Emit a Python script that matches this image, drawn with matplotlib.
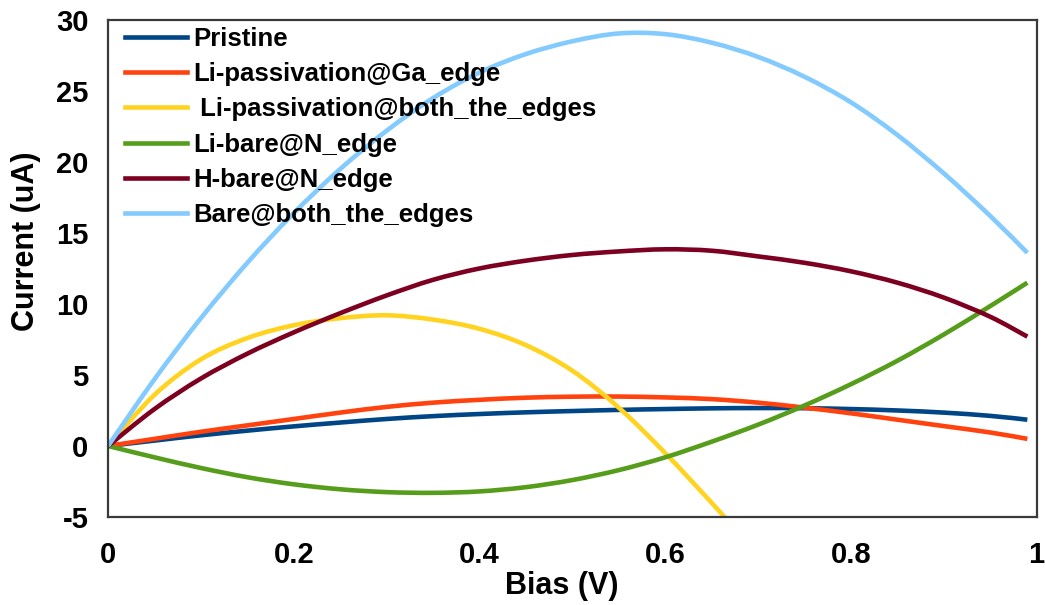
import matplotlib
matplotlib.use("Agg")
import numpy as np
import matplotlib.pyplot as plt
from matplotlib.path import Path
from matplotlib.patches import PathPatch

plt.rcParams['font.family'] = ['Liberation Sans', 'DejaVu Sans']
plt.rcParams['font.weight'] = 'bold'
plt.rcParams['axes.unicode_minus'] = False

bias = [0, 0.05, 0.1, 0.15, 0.2, 0.25, 0.3, 0.35, 0.4, 0.45, 0.5,
        0.55, 0.6, 0.65, 0.7, 0.75, 0.8, 0.85, 0.9, 0.95, 0.99]

pristine = [0, 0.38, 0.75, 1.08, 1.38, 1.65, 1.9, 2.1, 2.25, 2.37, 2.46,
            2.54, 2.6, 2.65, 2.67, 2.66, 2.6, 2.5, 2.35, 2.12, 1.85]
li_ga = [0, 0.5, 1.0, 1.45, 1.9, 2.35, 2.75, 3.05, 3.25, 3.4, 3.47,
         3.48, 3.42, 3.3, 3.05, 2.7, 2.3, 1.85, 1.4, 0.95, 0.5]
li_n = [0, -0.8, -1.55, -2.2, -2.7, -3.05, -3.25, -3.3, -3.2, -2.9, -2.4,
        -1.7, -0.8, 0.3, 1.5, 2.85, 4.35, 6.0, 7.85, 9.85, 11.5]
h_n = [0, 2.6, 4.75, 6.5, 8.0, 9.35, 10.6, 11.7, 12.5, 13.05, 13.45,
       13.7, 13.85, 13.75, 13.35, 12.9, 12.3, 11.5, 10.45, 9.1, 7.7]
bare_both = [0, 4.7, 9.0, 12.9, 16.4, 19.5, 22.2, 24.5, 26.3, 27.6, 28.5,
             29.05, 29.0, 28.4, 27.4, 26.0, 24.2, 21.9, 19.2, 16.2, 13.6]

# this one runs off the bottom of the axes
bias_both = [0, 0.05, 0.1, 0.15, 0.2, 0.25, 0.3, 0.35, 0.4, 0.45, 0.5,
             0.55, 0.6, 0.65, 0.665]
li_both = [0, 3.6, 6.1, 7.6, 8.5, 9.0, 9.2, 8.9, 8.25, 7.1, 5.3,
           2.7, -0.5, -4.0, -5.1]

series = [
    ('Pristine', bias, pristine, '#004586'),
    ('Li-passivation@Ga_edge', bias, li_ga, '#ff420e'),
    (' Li-passivation@both_the_edges', bias_both, li_both, '#ffd320'),
    ('Li-bare@N_edge', bias, li_n, '#579d1c'),
    ('H-bare@N_edge', bias, h_n, '#7e0021'),
    ('Bare@both_the_edges', bias, bare_both, '#83caff'),
]


def smooth_path(x, y):
    # catmull-rom through the points, as bezier segments (like the spreadsheet's smoothed lines)
    p = np.column_stack([x, y]).astype(float)
    ext = np.vstack([p[0], p, p[-1]])
    verts = [p[0]]
    codes = [Path.MOVETO]
    for i in range(len(p) - 1):
        p0, p1, p2, p3 = ext[i], ext[i + 1], ext[i + 2], ext[i + 3]
        verts += [p1 + (p2 - p0) / 6, p2 - (p3 - p1) / 6, p2]
        codes += [Path.CURVE4] * 3
    return Path(verts, codes)


fig = plt.figure(figsize=(10.45, 6.05), dpi=100)
ax = fig.add_axes([0.1034, 0.1455, 0.8886, 0.8215])

lw = 3.3
for name, x, y, c in series:
    ax.add_patch(PathPatch(smooth_path(x, y), fill=False, edgecolor=c, lw=lw,
                           capstyle='butt'))
    ax.plot([], [], color=c, lw=lw, label=name)

ax.set_xlim(0, 1)
ax.set_ylim(-5, 30)
ax.set_xticks([0, 0.2, 0.4, 0.6, 0.8, 1])
ax.set_xticklabels(['0', '0.2', '0.4', '0.6', '0.8', '1'])
ax.set_yticks(range(-5, 31, 5))
ax.tick_params(axis='x', length=0, labelsize=21, pad=17)
ax.tick_params(axis='y', length=0, labelsize=21, pad=14)
for s in ax.spines.values():
    s.set_linewidth(1.6)
    s.set_color('#3a3a3a')

ax.set_xlabel('Bias (V)', fontsize=22, fontweight='bold')
ax.set_ylabel('Current (uA)', fontsize=22, fontweight='bold')
ax.xaxis.set_label_coords(0.489, -0.108)
ax.yaxis.set_label_coords(-0.072, 0.555)

ax.legend(loc='upper left', bbox_to_anchor=(0.013, 0.997), frameon=False,
          fontsize=18.5, handlelength=2.4, handletextpad=0.25,
          labelspacing=0.44, borderaxespad=0.1, borderpad=0.1)

fig.savefig('out.png', dpi=100)
